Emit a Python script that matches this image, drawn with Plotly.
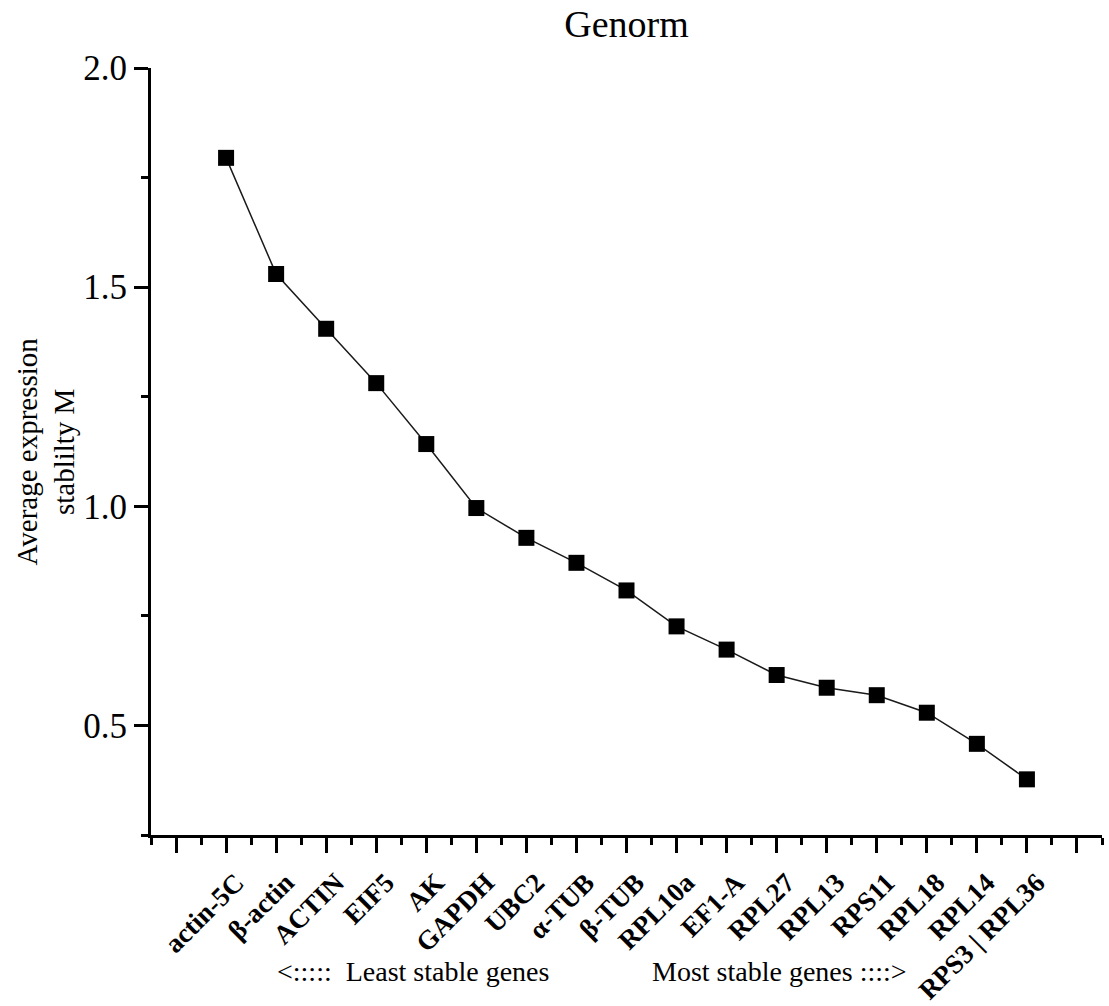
import plotly.graph_objects as go

genes = ["actin-5C", "β-actin", "ACTIN", "EIF5", "AK", "GAPDH", "UBC2", "α-TUB",
         "β-TUB", "RPL10a", "EF1-A", "RPL27", "RPL13", "RPS11", "RPL18", "RPL14",
         "RPS3 | RPL36"]
m_values = [1.795, 1.530, 1.405, 1.281, 1.142, 0.996, 0.928, 0.871, 0.808, 0.726,
            0.673, 0.615, 0.586, 0.569, 0.529, 0.458, 0.377]
positions = list(range(1, len(genes) + 1))
y_ticks = [0.5, 1.0, 1.5, 2.0]
y_ticktext = ["0.5", "1.0", "1.5", "2.0"]

W, H = 1109, 1006
L, R, T, B = 151, 7, 68, 171
plot_w = W - L - R
plot_h = H - T - B

x_range = [-0.5, 18.5]
px_per_unit = plot_w / (x_range[1] - x_range[0])
# label axis: same scale as the data axis, shifted so the rotated labels end
# slightly right of their ticks (as in the reference)
label_shift_px = 10
r0 = x_range[0] - label_shift_px / px_per_unit
r1 = x_range[1] - label_shift_px / px_per_unit

FONT = "Liberation Serif, Times New Roman, serif"

fig = go.Figure()
fig.add_trace(go.Scatter(
    x=positions, y=m_values, mode="lines+markers",
    line=dict(color="#1a1a1a", width=1.5),
    marker=dict(symbol="square", size=16, color="black"),
    showlegend=False, hoverinfo="x+y"))
fig.add_trace(go.Scatter(
    x=positions, y=m_values, xaxis="x2", mode="markers",
    marker=dict(opacity=0), showlegend=False, hoverinfo="skip"))

fig.update_layout(
    width=W, height=H,
    margin=dict(l=L, r=R, t=T, b=B, autoexpand=False),
    paper_bgcolor="white", plot_bgcolor="white",
    font=dict(family=FONT, color="black"),
    title=dict(text="Genorm", x=0.5, xref="paper", xanchor="center",
               y=1 - 24 / H, yref="container", yanchor="middle",
               font=dict(size=38, family=FONT, color="black")),
    xaxis=dict(range=x_range, tickmode="array", tickvals=list(range(0, 19)),
               showticklabels=False, ticks="outside", ticklen=15, tickwidth=2.5,
               tickcolor="black", showline=True, linewidth=3, linecolor="black",
               showgrid=False, zeroline=False, automargin=False,
               minor=dict(tick0=0, dtick=0.5, ticks="outside", ticklen=7,
                          tickwidth=2.5, tickcolor="black", showgrid=False)),
    xaxis2=dict(range=[r0, r1], overlaying="x", side="bottom", anchor="y",
                tickmode="array", tickvals=positions, ticktext=genes,
                tickangle=-45, ticks="outside", ticklen=20,
                tickcolor="rgba(0,0,0,0)", showline=False, showgrid=False,
                zeroline=False, automargin=False,
                tickfont=dict(size=27, family=FONT, color="black", weight="bold")),
    yaxis=dict(range=[0.25, 2.0], tickmode="array", tickvals=y_ticks,
               ticktext=y_ticktext, ticks="outside", ticklen=14, tickwidth=2.5,
               tickcolor="black", showline=True, linewidth=3, linecolor="black",
               showgrid=False, zeroline=False, automargin=False,
               tickfont=dict(size=35, family=FONT, color="black"),
               minor=dict(tick0=0.25, dtick=0.25, ticks="outside", ticklen=7,
                          tickwidth=2.5, tickcolor="black", showgrid=False)),
)

fig.add_annotation(text="Average expression<br>stablilty M", textangle=-90,
                   xref="paper", yref="paper", x=(45 - L) / plot_w, y=0.5,
                   xanchor="center", yanchor="middle", showarrow=False,
                   font=dict(size=29, family=FONT, color="black"))
fig.add_annotation(text="&lt;:::::\u00a0\u00a0Least stable genes",
                   xref="paper", yref="paper", x=(275 - L) / plot_w,
                   y=-(972 - (H - B)) / plot_h,
                   xanchor="left", yanchor="middle", showarrow=False,
                   font=dict(size=28, family=FONT, color="black"))
fig.add_annotation(text="Most stable genes ::::&gt;",
                   xref="paper", yref="paper", x=(650 - L) / plot_w,
                   y=-(972 - (H - B)) / plot_h,
                   xanchor="left", yanchor="middle", showarrow=False,
                   font=dict(size=28, family=FONT, color="black"))

fig.write_html("out.html", config={"displayModeBar": False},
               post_script="document.body.style.margin='0';"
                           "document.body.style.overflow='hidden';")
